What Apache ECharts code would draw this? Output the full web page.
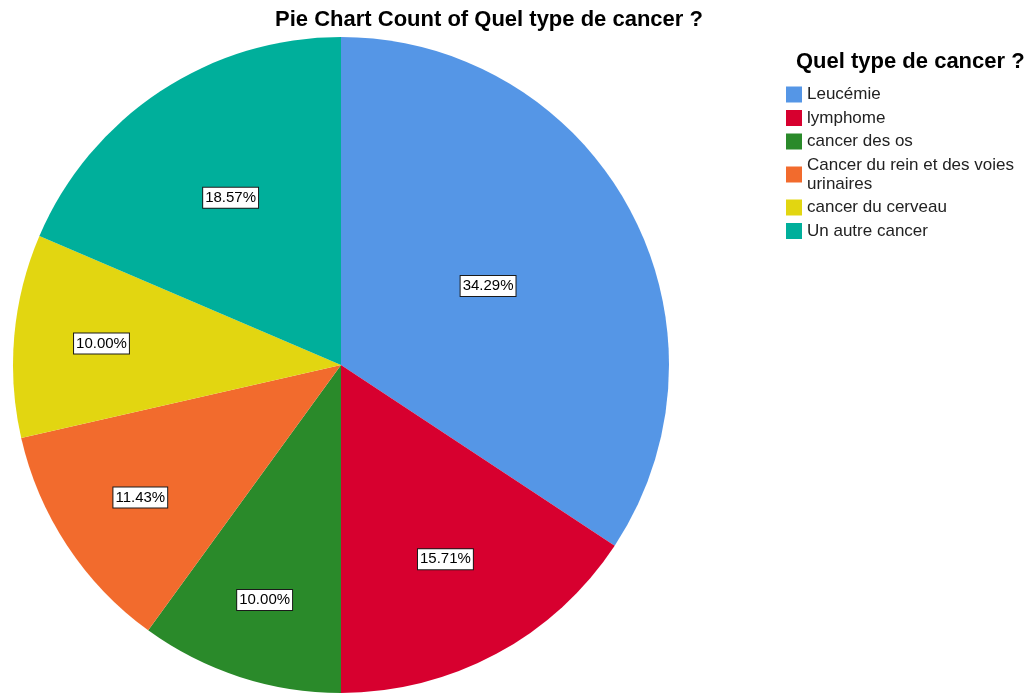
<!DOCTYPE html>
<html>
<head>
<meta charset="utf-8">
<script src="https://cdn.jsdelivr.net/npm/echarts@6/dist/echarts.min.js"></script>
<style>
html,body{margin:0;padding:0;background:#fff;}
#chart{width:1033px;height:694px;}
</style>
</head>
<body>
<div id="chart"></div>
<script>
const categories = ['Leucémie', 'lymphome', 'cancer des os', 'Cancer du rein et des voies urinaires', 'cancer du cerveau', 'Un autre cancer'];
const percents = [34.29, 15.71, 10.00, 11.43, 10.00, 18.57];
const colors = ['#5596E6', '#D7002F', '#2A8A2A', '#F26B2D', '#E2D611', '#00AF9B'];
const chartTitle = 'Pie Chart Count of Quel type de cancer ?';
const legendTitle = 'Quel type de cancer ?';

// label placement (fraction of radius) per slice — layout only
const labelRadiusRatio = [0.50, 0.66, 0.74, 0.72, 0.72, 0.60];
const CX = 341, CY = 365, R = 328;

const chart = echarts.init(document.getElementById('chart'), null, {renderer: 'canvas'});
chart.setOption({
  backgroundColor: '#ffffff',
  animation: false,
  title: [
    {text: chartTitle, left: 484, top: 4, textAlign: 'center',
     textStyle: {fontFamily: 'Liberation Sans, Arial', fontSize: 22, fontWeight: 'bold', color: '#000'}},
    {text: legendTitle, left: 791, top: 46,
     textStyle: {fontFamily: 'Liberation Sans, Arial', fontSize: 22, fontWeight: 'bold', color: '#000'}}
  ],
  legend: {
    orient: 'vertical',
    left: 786,
    top: 85,
    icon: 'rect',
    itemWidth: 16,
    itemHeight: 16,
    itemGap: 4.5,
    padding: 0,
    selectedMode: false,
    data: categories,
    formatter: function (name) {
      return name === 'Cancer du rein et des voies urinaires' ? 'Cancer du rein et des voies\nurinaires' : name;
    },
    textStyle: {fontFamily: 'Liberation Sans, Arial', fontSize: 17, color: '#222', lineHeight: 19}
  },
  series: [{
    type: 'pie',
    center: [CX, CY],
    radius: [0, R],
    startAngle: 90,
    clockwise: true,
    avoidLabelOverlap: false,
    silent: true,
    itemStyle: {borderWidth: 0},
    label: {
      show: true,
      position: 'inside',
      formatter: function (p) { return p.value.toFixed(2) + '%'; },
      fontFamily: 'Liberation Sans, Arial',
      fontSize: 15,
      color: '#000',
      backgroundColor: '#fff',
      borderColor: '#1a1a1a',
      borderWidth: 1,
      padding: [3, 2, 2, 2]
    },
    labelLine: {show: false},
    labelLayout: function (params) {
      const r = params.labelRect;
      const lx = r.x + r.width / 2, ly = r.y + r.height / 2;
      const k = labelRadiusRatio[params.dataIndex] / 0.5;
      return {x: CX + (lx - CX) * k, y: CY + (ly - CY) * k};
    },
    data: categories.map((c, i) => ({name: c, value: percents[i], itemStyle: {color: colors[i]}}))
  }]
});
</script>
</body>
</html>
